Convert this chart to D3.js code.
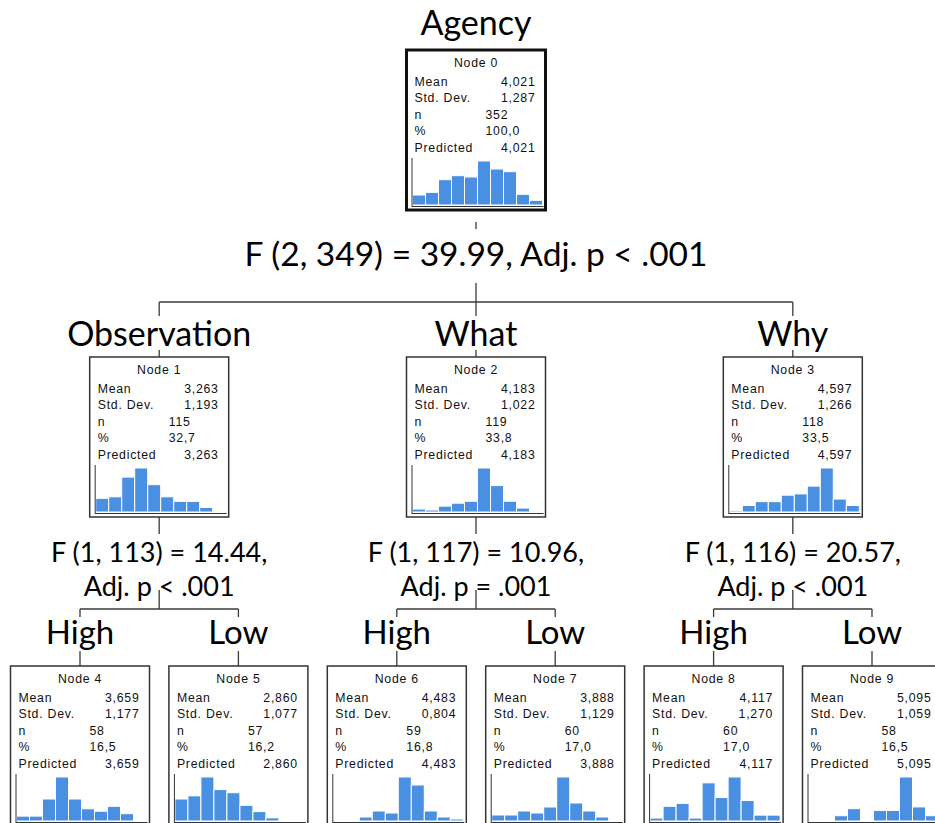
<!DOCTYPE html>
<meta charset="utf-8">
<head>
<style>
body { margin: 0; background: #fff; }
.conn { stroke: #3a3a3a; stroke-width: 1.3px; fill: none; }
.big { font-family: Lato, "Liberation Sans", sans-serif; fill: #000; text-anchor: middle; }
.box { fill: #fff; stroke: #333; stroke-width: 1.5px; }
.stat text { font-family: "Liberation Sans", Arial, sans-serif; font-size: 12.3px; letter-spacing: .75px; fill: #111; }
.bar { fill: rgb(74,144,226); stroke: #fff; stroke-width: 1px; }
.hax { stroke: #333; stroke-width: 1px; }
</style>
<script src="https://d3js.org/d3.v7.min.js"></script>
<title>Agency decision tree</title>
</head>
<body>
<script>

// tree structure and node values
var nodeIds    = [0, 1, 2, 3, 4, 5, 6, 7, 8, 9];
var parentIds  = [null, 0, 0, 0, 1, 1, 2, 2, 3, 3];
var nodeLabels = ["Agency", "Observation", "What", "Why", "High", "Low", "High", "Low", "High", "Low"];
var means      = [4.021, 3.263, 4.183, 4.597, 3.659, 2.860, 4.483, 3.888, 4.117, 5.095];
var stdDevs    = [1.287, 1.193, 1.022, 1.266, 1.177, 1.077, 0.804, 1.129, 1.270, 1.059];
var counts     = [352, 115, 119, 118, 58, 57, 59, 60, 60, 58];
var percents   = [100.0, 32.7, 33.8, 33.5, 16.5, 16.2, 16.8, 17.0, 17.0, 16.5];
var predicted  = [4.021, 3.263, 4.183, 4.597, 3.659, 2.860, 4.483, 3.888, 4.117, 5.095];

// histogram bin counts (10 bins) per node
var histograms = [
  [15, 19, 38, 44, 42, 66, 54, 50, 16, 7],
  [9, 10, 23, 29, 18, 10, 7, 7, 3, 0],
  [3, 2, 6, 9, 11, 45, 27, 11, 4, 1],
  [1, 5, 8, 8, 13, 14, 20, 34, 10, 5],
  [2, 2, 9, 18, 9, 5, 4, 6, 3, 0],
  [7, 8, 14, 10, 9, 5, 3, 1, 0, 0],
  [0, 0, 2, 5, 4, 22, 18, 5, 2, 1],
  [3, 3, 5, 4, 7, 22, 9, 5, 2, 0],
  [1, 5, 6, 1, 13, 8, 15, 7, 2, 2],
  [0, 0, 3, 7, 0, 6, 6, 25, 8, 3]
];

// split statistics for the nodes that have children
var splitNodes = [0, 1, 2, 3];
var splitLines = [
  ["F (2, 349) = 39.99, Adj. p < .001"],
  ["F (1, 113) = 14.44,", "Adj. p < .001"],
  ["F (1, 117) = 10.96,", "Adj. p = .001"],
  ["F (1, 116) = 20.57,", "Adj. p < .001"]
];

var rowNames = ["Mean", "Std. Dev.", "n", "%", "Predicted"];

// layout
var width = 935, height = 823;
var boxW = 139, boxH = 160;
var levelTop = [50, 357, 666];
var labelBase = [35, 346, 644];
var labelSize = [34, 34, 33];
var splitLayout = [
  {stemA: [222, 229], textY: [266], size: 33.5, stemB: [283, 302], drop: 316},
  {stemA: [517, 534], textY: [562, 596], size: 27, stemB: [590, 609], drop: 617}
];
var childStem = [null, [350, 357], [651, 666]];

var comma3 = v => d3.format(".3f")(v).replace(".", ",");
var comma1 = v => d3.format(".1f")(v).replace(".", ",");

var table = nodeIds.map((id, i) => ({id: id, parent: parentIds[i]}));
var root = d3.stratify().id(d => d.id).parentId(d => d.parent)(table);
d3.tree().nodeSize([158.4, 1]).separation(() => 1)(root);
var xOff = 476;

var svg = d3.select("body").append("svg")
    .attr("width", width)
    .attr("height", height);

var conn = svg.append("g");

// connectors + split texts
root.descendants().filter(d => d.children).forEach(function(d) {
  var L = splitLayout[d.depth];
  var cx = d.x + xOff;
  conn.append("line").attr("class", "conn")
      .attr("x1", cx).attr("x2", cx).attr("y1", L.stemA[0]).attr("y2", L.stemA[1]);
  conn.append("line").attr("class", "conn")
      .attr("x1", cx).attr("x2", cx).attr("y1", L.stemB[0]).attr("y2", L.stemB[1]);
  var xs = d.children.map(c => c.x + xOff);
  conn.append("line").attr("class", "conn")
      .attr("x1", d3.min(xs)).attr("x2", d3.max(xs)).attr("y1", L.stemB[1]).attr("y2", L.stemB[1]);
  xs.forEach(function(x) {
    conn.append("line").attr("class", "conn")
        .attr("x1", x).attr("x2", x).attr("y1", L.stemB[1]).attr("y2", L.drop);
  });
  var lines = splitLines[splitNodes.indexOf(+d.id)];
  lines.forEach(function(t, k) {
    svg.append("text").attr("class", "big")
        .attr("x", cx).attr("y", L.textY[k])
        .style("font-size", L.size + "px")
        .text(t);
  });
});

// node labels and boxes
root.descendants().forEach(function(d) {
  var i = +d.id;
  var cx = d.x + xOff;
  var top = levelTop[d.depth];

  svg.append("text").attr("class", "big")
      .attr("x", cx).attr("y", labelBase[d.depth])
      .style("font-size", labelSize[d.depth] + "px")
      .text(nodeLabels[i]);

  if (childStem[d.depth]) {
    conn.append("line").attr("class", "conn")
        .attr("x1", cx).attr("x2", cx)
        .attr("y1", childStem[d.depth][0]).attr("y2", childStem[d.depth][1]);
  }

  var g = svg.append("g").attr("class", "stat")
      .attr("transform", "translate(" + (cx - boxW / 2) + "," + top + ")");

  g.append("rect").attr("class", "box")
      .attr("width", boxW).attr("height", boxH)
      .style("stroke-width", i === 0 ? 3 : 1.5)
      .style("stroke", i === 0 ? "#111" : "#333");

  g.append("text").attr("x", boxW / 2).attr("y", 17)
      .attr("text-anchor", "middle").text("Node " + i);

  var vals = [comma3(means[i]), comma3(stdDevs[i]), counts[i], comma1(percents[i]), comma3(predicted[i])];
  rowNames.forEach(function(name, r) {
    var y = 35.5 + r * 16.5;
    g.append("text").attr("x", 8).attr("y", y).text(name);
    var mid = (r === 2 || r === 3);
    g.append("text")
        .attr("x", mid ? 79 : boxW - 10).attr("y", y)
        .attr("text-anchor", mid ? "start" : "end")
        .text(vals[r]);
  });

  // histogram
  var hist = histograms[i];
  var x = d3.scaleBand().domain(d3.range(hist.length)).range([6, 136]);
  var y = d3.scaleLinear().domain([0, d3.max(hist)]).range([155, 111]);
  g.selectAll(".bar").data(hist).enter().append("rect")
      .attr("class", "bar")
      .attr("x", (v, k) => x(k))
      .attr("width", x.bandwidth())
      .attr("y", v => y(v))
      .attr("height", v => y(0) - y(v));
  g.append("line").attr("class", "hax")
      .attr("x1", 5.5).attr("x2", 5.5).attr("y1", 108).attr("y2", 157);
  g.append("line").attr("class", "hax")
      .attr("x1", 5.5).attr("x2", 137).attr("y1", 156.5).attr("y2", 156.5);
});

</script>
</body>
</html>
